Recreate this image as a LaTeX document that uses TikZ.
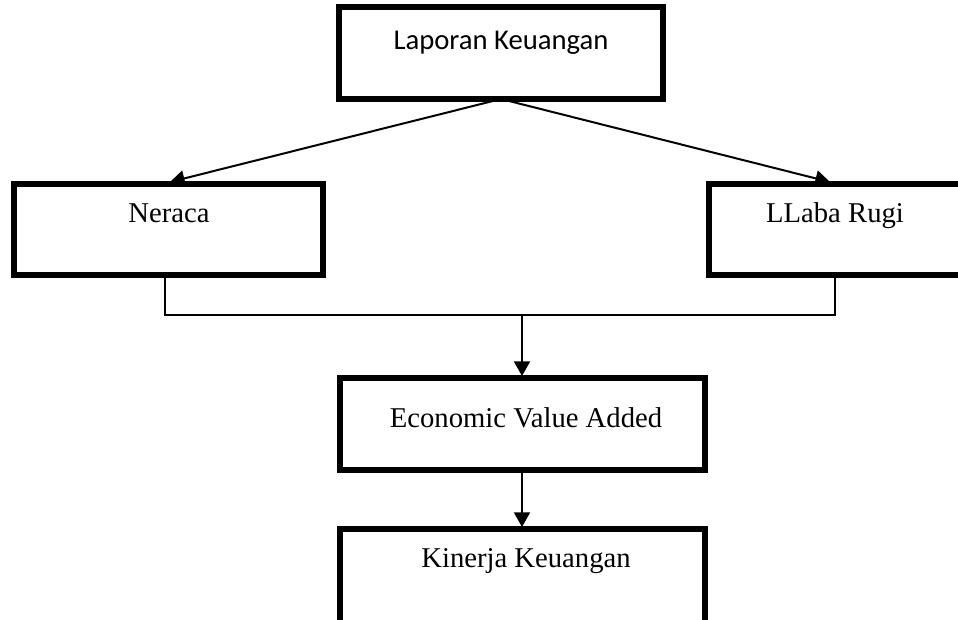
\documentclass[tikz,border=0pt]{standalone}
\usepackage{fontspec}
\setmainfont{Liberation Serif}
\newfontfamily\carlito{Carlito}
\usetikzlibrary{fit,arrows.meta}
\begin{document}
\begin{tikzpicture}[x=0.75pt,y=-0.75pt,
  box/.style={draw, line width=3.8pt, inner sep=0pt, outer sep=0pt},
  txt/.style={anchor=base, inner sep=0pt, font=\fontsize{21.5pt}{26pt}\selectfont},
  conn/.style={line width=1.5pt},
  arr/.style={line width=1.5pt, -{Triangle[length=11pt,width=12pt]}}]
\useasboundingbox (0,0) rectangle (958,620);
\clip (0,0) rectangle (958,620);
\node[box, fit={(339,7)(663,99)}] (lap) {};
\node[txt, font=\carlito\fontsize{21.5pt}{26pt}\selectfont] (lapt) at (501,50) {Laporan Keuangan};
\node[box, fit={(14,184)(323,275)}] (ner) {};
\node[txt] (nert) at (169,223) {Neraca};
\node[box, fit={(709,184)(975,275)}] (lab) {};
\node[txt] (labt) at (835,223) {LLaba Rugi};
\node[box, fit={(340,378)(705,470)}] (eva) {};
\node[txt] (evat) at (526,428) {Economic Value Added};
\node[box, fit={(340,529)(705,640)}] (kin) {};
\node[txt] (kint) at (526,568) {Kinerja Keuangan};
\coordinate (nerin) at (170,182);
\coordinate (labin) at (830,182);
\coordinate (nerout) at (165,277);
\coordinate (labout) at (835,277);
\coordinate (jl) at (165,315);
\coordinate (jr) at (835,315);
\coordinate (jm) at (522,316);
\coordinate (evain) at (522,376);
\coordinate (evaout) at (522,472);
\coordinate (kinin) at (522,527);
\draw[arr] (lap.south) -- (nerin);
\draw[arr] (lap.south) -- (labin);
\draw[conn] (nerout) -- (jl) -- (jr) -- (labout);
\draw[arr] (jm) -- (evain);
\draw[arr] (evaout) -- (kinin);
\end{tikzpicture}
\end{document}
